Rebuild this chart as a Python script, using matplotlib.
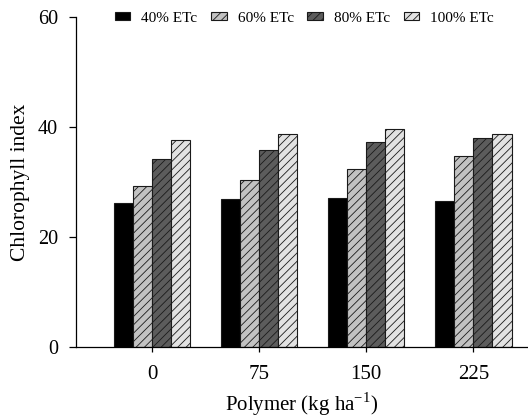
import numpy as np
import matplotlib
matplotlib.use("Agg")
import matplotlib.pyplot as plt

plt.rcParams.update({"font.family": ["Liberation Serif", "DejaVu Serif"],
                     "hatch.linewidth": 0.6, "hatch.color": "#3a3a3a"})

polymer = ["0", "75", "150", "225"]
levels = ["40% ETc", "60% ETc", "80% ETc", "100% ETc"]
etc40 = [26.2, 26.9, 27.2, 26.6]
etc60 = [29.3, 30.4, 32.5, 34.7]
etc80 = [34.3, 35.9, 37.4, 38.0]
etc100 = [37.6, 38.7, 39.6, 38.7]

series = [etc40, etc60, etc80, etc100]
fills = ["#000000", "#c2c2c2", "#5c5c5c", "#e2e2e2"]
hatches = [None, "////", "////", "////"]

fig = plt.figure(figsize=(5.28, 4.19), dpi=100)
ax = fig.add_axes([0.144, 0.171, 0.856, 0.788])

x = np.arange(len(polymer))
w = 0.178
for i, (vals, fc, h) in enumerate(zip(series, fills, hatches)):
    ax.bar(x + (i - 1.5) * w, vals, width=w, color=fc, edgecolor="#1a1a1a",
           linewidth=0.8, hatch=h, label=levels[i], zorder=2)

ax.set_xlim(-0.71, 3.51)
ax.set_ylim(0, 60)
ax.set_yticks([0, 20, 40, 60])
ax.set_xticks(x)
ax.set_xticklabels(polymer)
ax.spines[["top", "right"]].set_visible(False)
ax.spines[["left", "bottom"]].set_linewidth(0.9)
ax.tick_params(axis="y", direction="out", length=5, width=0.9, labelsize=14.5, pad=8)
ax.tick_params(axis="x", direction="inout", length=7, width=0.9, labelsize=15, pad=9)
for t in ax.get_xticklines():
    t.set_zorder(3)

ax.set_ylabel("Chlorophyll index", fontsize=15.5, labelpad=6)
ax.set_xlabel("Polymer (kg ha$^{\\mathregular{-1}}$)", fontsize=15, labelpad=5)

ax.legend(ncol=4, loc="center left", bbox_to_anchor=(0.218, 0.957),
          bbox_transform=fig.transFigure, frameon=False, borderaxespad=0,
          borderpad=0, fontsize=11, handlelength=1.0, handleheight=0.46,
          handletextpad=0.72, columnspacing=0.9)

fig.savefig("out.png", dpi=100)
